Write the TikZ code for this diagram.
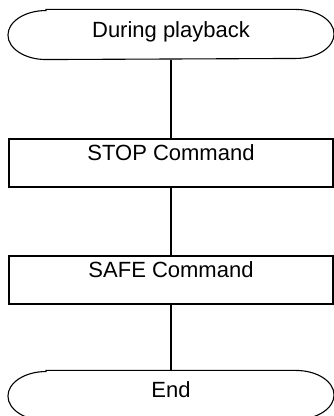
\documentclass[tikz,border=0pt]{standalone}
\usepackage{fontspec}
\setmainfont{Liberation Sans}
\begin{document}
\begin{tikzpicture}[x=1pt,y=1pt,line width=1.1pt,
  stepbox/.style={draw,rectangle,inner sep=0pt,minimum width=324pt,text height=22pt,text depth=26pt},
  termbox/.style={rectangle,inner sep=0pt,minimum width=325pt,minimum height=49pt}]
\useasboundingbox (0,0) rectangle (334,416);
\fontsize{22}{26}\selectfont

\node[termbox,text height=28pt,text depth=21pt] (play) at (171,381.5) {During playback};
\node[stepbox] (stop) at (171,253) {STOP Command};
\node[stepbox] (safe) at (171,136) {SAFE Command};
\node[termbox,text height=27pt,text depth=22pt] (done) at (171,20.5) {End};

% terminal outlines with elliptic ends
\foreach \t in {play,done}
  \draw ([xshift=38pt]\t.north west) -- ([xshift=-38pt]\t.north east)
    arc[start angle=90,end angle=-90,x radius=38pt,y radius=24.5pt]
    -- ([xshift=38pt]\t.south west)
    arc[start angle=270,end angle=90,x radius=38pt,y radius=24.5pt] -- cycle;

\draw (play) -- (stop);
\draw (stop) -- (safe);
\draw (safe) -- (done);
\end{tikzpicture}
\end{document}
